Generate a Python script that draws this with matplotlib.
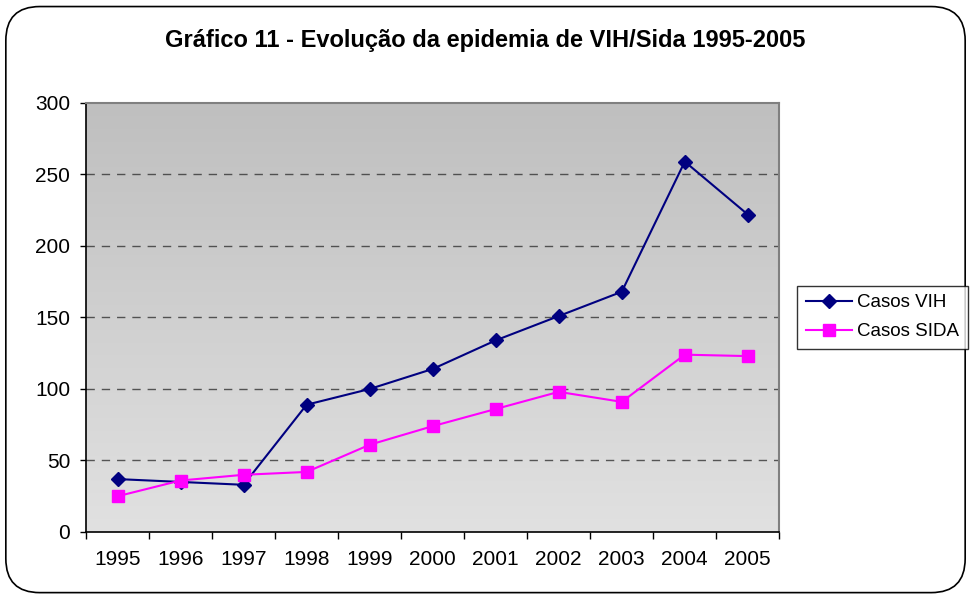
import numpy as np
import matplotlib
matplotlib.use("Agg")
import matplotlib.pyplot as plt
from matplotlib.patches import FancyBboxPatch
from matplotlib.lines import Line2D

plt.rcParams['font.family'] = ['Liberation Sans', 'DejaVu Sans']

years = ['1995', '1996', '1997', '1998', '1999', '2000', '2001', '2002', '2003', '2004', '2005']
casos_vih = [37, 35, 33, 89, 100, 114, 134, 151, 168, 259, 222]
casos_sida = [25, 36, 40, 42, 61, 74, 86, 98, 91, 124, 123]
yticks = [0, 50, 100, 150, 200, 250, 300]

fig = plt.figure(figsize=(9.71, 5.95), dpi=100)
fig.patch.set_facecolor('white')

# rounded outer border
border = FancyBboxPatch((0.006, 0.004), 0.988, 0.985, boxstyle="round,pad=0,rounding_size=0.035",
                        transform=fig.transFigure, fill=False, edgecolor='black', linewidth=1.2,
                        mutation_aspect=971/595)
fig.patches.append(border)

ax = fig.add_axes([0.0886, 0.1059, 0.7140, 0.7210])
x = np.arange(len(years))
ax.set_xlim(-0.5, len(years) - 0.5)
ax.set_ylim(0, 300)

# gradient background
grad = np.linspace(0, 1, 256).reshape(-1, 1)
cmap = matplotlib.colors.LinearSegmentedColormap.from_list('g', ['#e1e1e1', '#bfbfbf'])
ax.imshow(grad, aspect='auto', cmap=cmap, origin='lower',
          extent=[-0.5, len(years) - 0.5, 0, 300], zorder=0)

for yv in yticks[1:-1]:
    ax.axhline(yv, color='#333333', linestyle=(0, (6, 5)), linewidth=1.0, zorder=1, alpha=0.8)

ax.plot(x, casos_vih, color='#000080', marker='D', markersize=7, linewidth=1.5,
        label='Casos VIH', zorder=3)
ax.plot(x, casos_sida, color='#ff00ff', marker='s', markersize=8, linewidth=1.5,
        label='Casos SIDA', zorder=3)

ax.set_yticks(yticks)
ax.set_yticklabels([str(v) for v in yticks], fontsize=15)
ax.set_xticks(x)
ax.set_xticklabels(years, fontsize=15)
ax.set_xticks(np.arange(-0.5, len(years), 1), minor=True)
ax.tick_params(axis='x', which='major', length=0, pad=13)
ax.tick_params(axis='x', which='minor', length=5, width=1, direction='out')
ax.tick_params(axis='y', which='major', length=4.5, width=1, direction='out', pad=7)

for s in ['left', 'bottom']:
    ax.spines[s].set_color('black')
    ax.spines[s].set_linewidth(1.2)
for s in ['top', 'right']:
    ax.spines[s].set_color('#808080')
    ax.spines[s].set_linewidth(1.5)

fig.text(0.5, 0.932, 'Gráfico 11 - Evolução da epidemia de VIH/Sida 1995-2005',
         ha='center', va='center', fontsize=17, fontweight='bold')

handles = [Line2D([], [], color='#000080', marker='D', markersize=7, linewidth=1.5),
           Line2D([], [], color='#ff00ff', marker='s', markersize=8, linewidth=1.5)]
leg = fig.legend(handles, ['Casos VIH', 'Casos SIDA'], loc='center left',
                 bbox_to_anchor=(0.821, 0.467), fontsize=13.5, frameon=True,
                 fancybox=False, edgecolor='black', handlelength=2.45,
                 borderpad=0.45, labelspacing=0.62, handletextpad=0.3,
                 borderaxespad=0)
leg.get_frame().set_linewidth(1.0)

fig.savefig('out.png', dpi=100)
